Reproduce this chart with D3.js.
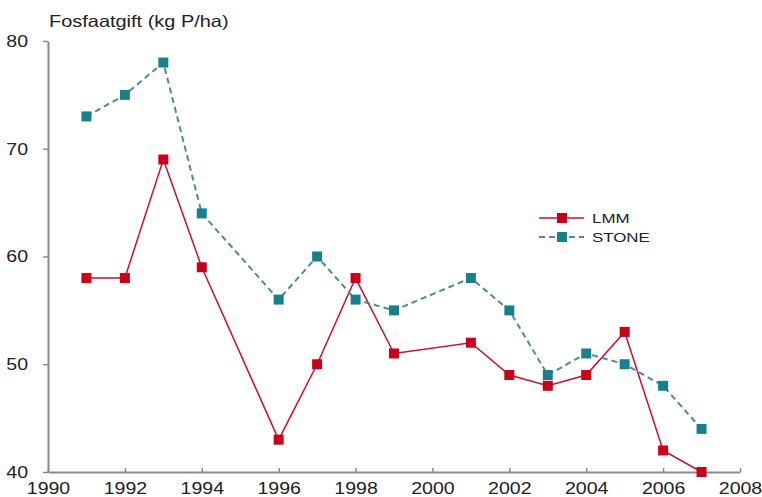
<!DOCTYPE html>
<html><head><meta charset="utf-8">
<script src="https://cdn.jsdelivr.net/npm/d3@7"></script>
<style>body{margin:0;background:#fff}svg{display:block}text{font-family:"Liberation Sans",Arial,sans-serif;fill:#222}</style>
</head><body>
<svg id="c" width="762" height="497"></svg>
<script>
const years = [1991,1992,1993,1994,1996,1997,1998,1999,2001,2002,2003,2004,2005,2006,2007];
const lmm   = [58,58,69,59,43,50,58,51,52,49,48,49,53,42,40];
const stone = [73,75,78,64,56,60,56,55,58,55,49,51,50,48,44];
const xTicks = [1990,1992,1994,1996,1998,2000,2002,2004,2006,2008];
const yTicks = [40,50,60,70,80];
const seriesNames = ["LMM","STONE"];
const yTitle = "Fosfaatgift (kg P/ha)";

const svg = d3.select("#c");
const m = {l:48, r:22, t:41, b:25};
const W = 762, H = 497;
const x = d3.scaleLinear().domain([1990,2008]).range([m.l, W-m.r]);
const y = d3.scaleLinear().domain([40,80]).range([H-m.b, m.t]);
const SX = 1.15;
const axisCol = "#8a8a8a";

// axes
const gx = svg.append("g").attr("transform",`translate(0,${y(40)})`)
  .call(d3.axisBottom(x).tickValues(xTicks).tickFormat(d3.format("d")).tickSizeInner(-4).tickSizeOuter(0).tickPadding(10));
const gy = svg.append("g").attr("transform",`translate(${x(1990)},0)`)
  .call(d3.axisLeft(y).tickValues(yTicks).tickSizeInner(5).tickSizeOuter(0).tickPadding(15));
[gx,gy].forEach(g=>{
  g.select(".domain").attr("stroke",axisCol).attr("stroke-width",2);
  g.selectAll(".tick line").attr("stroke",axisCol).attr("stroke-width",1.5);
  g.selectAll("text").style("font-size","17px").attr("fill","#333");
});
gx.selectAll(".tick text").each(function(){
  const t=d3.select(this); const yy=+t.attr("y");
  t.attr("y",null).attr("transform",`translate(0,${yy}) scale(${SX},1)`);
});
gy.selectAll(".tick text").each(function(){
  const t=d3.select(this); const xx=+t.attr("x");
  t.attr("x",null).attr("transform",`translate(${xx},0) scale(${SX},1)`);
});

// title
svg.append("text").attr("transform",`translate(49,27) scale(1.21,1)`)
  .style("font-size","16.5px").attr("fill","#222").text(yTitle);

const cols = {LMM:{line:"#c8102e",mark:"#c8001a",dash:null,w:1.5}, STONE:{line:"#4f8a93",mark:"#17808c",dash:"6,4",w:2}};
const data = {LMM:lmm, STONE:stone};
const line = d3.line().x(d=>x(d[0])).y(d=>y(d[1]));
const ms = 10;
seriesNames.forEach(name=>{
  const pts = years.map((yr,i)=>[yr,data[name][i]]);
  const c = cols[name];
  svg.append("path").datum(pts).attr("d",line).attr("fill","none")
    .attr("stroke",c.line).attr("stroke-width",c.w).attr("stroke-dasharray",c.dash);
});
seriesNames.forEach(name=>{
  const pts = years.map((yr,i)=>[yr,data[name][i]]);
  const c = cols[name];
  svg.append("g").selectAll("rect").data(pts).join("rect")
    .attr("x",d=>x(d[0])-ms/2).attr("y",d=>y(d[1])-ms/2)
    .attr("width",ms).attr("height",ms).attr("fill",c.mark);
});

// legend
const lg = svg.append("g");
seriesNames.forEach((name,i)=>{
  const ly = 218 + i*19;
  const c = cols[name];
  lg.append("line").attr("x1",539).attr("x2",584).attr("y1",ly).attr("y2",ly)
    .attr("stroke",c.line).attr("stroke-width",c.w).attr("stroke-dasharray",c.dash);
  lg.append("rect").attr("x",562-ms/2).attr("y",ly-ms/2).attr("width",ms).attr("height",ms).attr("fill",c.mark);
  lg.append("text").attr("transform",`translate(592,${ly+5}) scale(1.25,1)`)
    .style("font-size","13.5px").attr("fill","#222").text(name);
});
</script>
</body></html>
